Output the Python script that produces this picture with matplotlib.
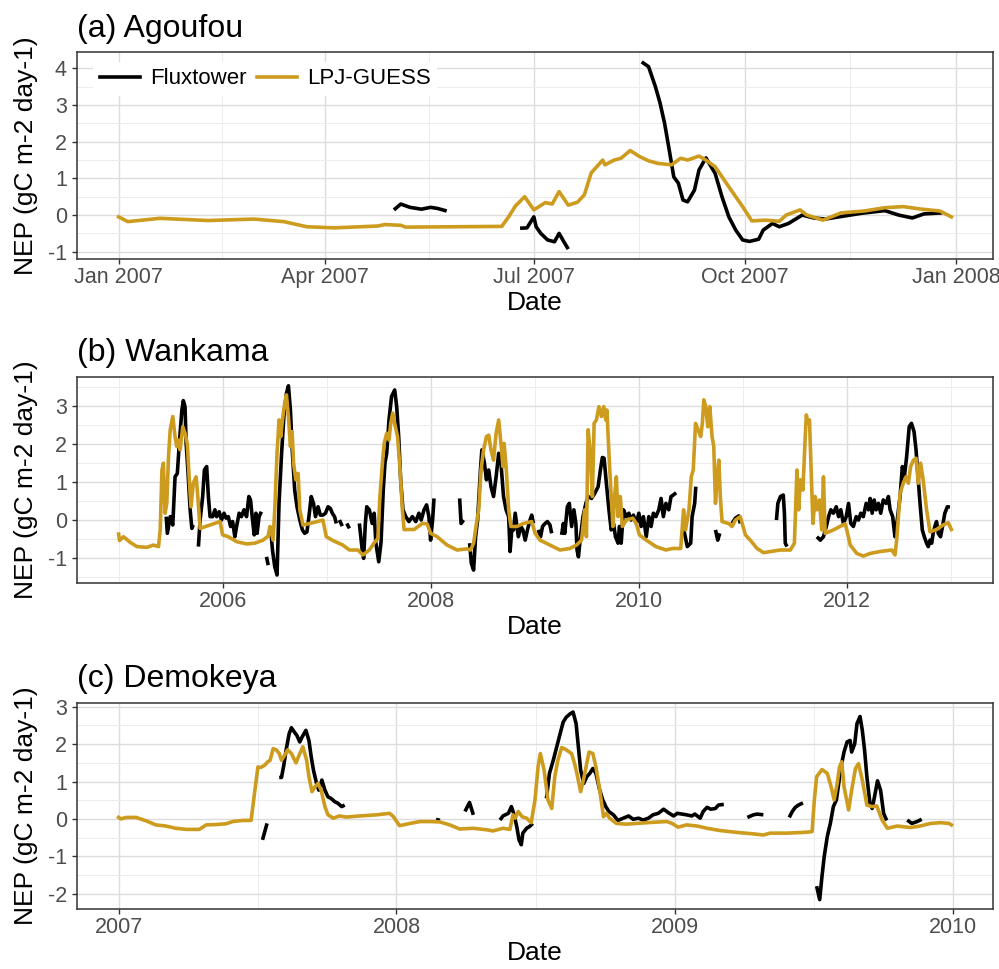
import numpy as np
import matplotlib
matplotlib.use('Agg')
import matplotlib.pyplot as plt
from matplotlib.lines import Line2D
from matplotlib.ticker import MultipleLocator, FixedLocator
import matplotlib.dates as mdates

plt.rcParams['font.family'] = ['Liberation Sans', 'DejaVu Sans']

flux_col = 'black'
lpj_col = '#CD9B1D'

# ---- (a) Agoufou, days since 2007-01-01 ----
a_start = '2007-01-01'
a_lpj_day = [0, 4, 18, 39, 59, 72, 82, 94, 113, 116, 123, 125, 167, 170, 173, 177, 181, 186, 189,
             192, 196, 200, 203, 206, 211, 212, 216, 219, 223, 227, 231, 235, 241, 245, 248, 253,
             256, 260, 266, 272, 276, 282, 288, 291, 297, 300, 307, 315, 325, 334, 342, 350, 358, 363]
a_lpj_nep = [-0.05, -0.18, -0.09, -0.15, -0.11, -0.18, -0.32, -0.35, -0.30, -0.26, -0.28, -0.33, -0.31,
             -0.05, 0.25, 0.50, 0.14, 0.34, 0.30, 0.64, 0.27, 0.35, 0.55, 1.15, 1.50, 1.37, 1.50, 1.55,
             1.76, 1.60, 1.48, 1.41, 1.37, 1.55, 1.50, 1.61, 1.50, 1.32, 0.77, 0.23, -0.16, -0.14,
             -0.17, 0.00, 0.14, 0.00, -0.14, 0.06, 0.11, 0.20, 0.23, 0.16, 0.11, -0.05]
a_flux = [
    ([120, 123, 127, 132, 136, 139, 143],
     [0.14, 0.30, 0.21, 0.16, 0.21, 0.18, 0.11]),
    ([175, 178, 181, 182, 184, 187, 190, 192, 194, 196],
     [-0.36, -0.35, -0.05, -0.32, -0.50, -0.68, -0.73, -0.50, -0.72, -0.93]),
    ([228, 231, 234, 236, 238, 240, 242, 244, 246, 248, 251, 253, 256, 260, 263, 266, 269, 272,
      275, 279, 281, 285, 288, 292, 298, 303, 308, 315, 324, 334, 340, 346, 351, 359],
     [4.18, 4.05, 3.50, 3.06, 2.50, 1.78, 1.04, 0.87, 0.41, 0.36, 0.68, 1.23, 1.56, 1.14, 0.50,
      -0.05, -0.41, -0.68, -0.72, -0.66, -0.41, -0.23, -0.32, -0.23, 0.00, -0.08, -0.11, -0.04,
      0.05, 0.12, 0.00, -0.08, 0.03, 0.06]),
]

# ---- (b) Wankama, days since 2005-01-01 ----
b_start = '2005-01-01'
b_lpj_day = [0, 3, 17, 41, 64, 99, 122, 140, 146, 152, 157, 163, 169, 175, 181, 190, 198, 204, 210,
             216, 225, 233, 241, 248, 254, 262, 272, 277, 286, 309, 332, 356, 365, 385, 414, 449,
             478, 507, 525, 531, 542, 548, 556, 563, 569, 575, 583, 589, 596, 603, 609, 614, 622,
             630, 636, 647, 682, 717, 729, 752, 787, 810, 840, 857, 880, 898, 910, 917, 926, 932,
             941, 949, 955, 962, 969, 979, 988, 996, 1002, 1037, 1066, 1083, 1095, 1118, 1153,
             1188, 1223, 1235, 1246, 1256, 1264, 1272, 1281, 1291, 1299, 1307, 1316, 1325, 1334,
             1342, 1349, 1353, 1360, 1369, 1377, 1398, 1421, 1450, 1462, 1479, 1514, 1549, 1584,
             1607, 1625, 1636, 1642, 1648, 1656, 1663, 1669, 1677, 1686, 1695, 1703, 1710, 1714,
             1721, 1729, 1735, 1741, 1747, 1753, 1761, 1768, 1782, 1805, 1817, 1828, 1852, 1886,
             1921, 1944, 1973, 1983, 1990, 2002, 2010, 2017, 2025, 2034, 2043, 2049, 2054, 2061,
             2068, 2075, 2083, 2089, 2095, 2101, 2107, 2112, 2118, 2141, 2153, 2165, 2182, 2200,
             2217, 2241, 2264, 2288, 2323, 2358, 2372, 2381, 2387, 2393, 2402, 2410, 2414, 2419,
             2425, 2430, 2437, 2445, 2451, 2460, 2468, 2474, 2480, 2509, 2550, 2556, 2568, 2591,
             2614, 2638, 2673, 2714, 2725, 2731, 2743, 2754, 2764, 2772, 2780, 2790, 2799, 2807,
             2815, 2824, 2836, 2848, 2871, 2894, 2912, 2923]
b_lpj_nep = [-0.38, -0.55, -0.45, -0.60, -0.71, -0.73, -0.67, -0.71, -0.27, 1.31, 1.49, 0.17, 0.43,
             1.66, 2.37, 2.72, 2.19, 1.93, 2.10, 1.84, 2.45, 2.28, 2.00, 1.05, 0.34, 0.96, 1.13,
             0.69, -0.23, -0.17, -0.11, -0.05, -0.40, -0.45, -0.58, -0.64, -0.62, -0.54, -0.43,
             -0.18, -0.54, 0.26, 1.75, 2.63, 2.19, 2.63, 3.07, 3.29, 2.72, 1.93, 2.32, 1.49, 1.05,
             1.22, 0.26, -0.14, -0.08, -0.01, -0.45, -0.55, -0.67, -0.80, -0.80, -0.93, -0.80,
             -0.60, -0.50, 0.60, 1.50, 2.01, 2.28, 2.10, 2.54, 2.81, 2.54, 2.19, 1.31, 0.26, -0.26,
             -0.26, -0.10, -0.11, -0.36, -0.45, -0.67, -0.80, -0.77, -0.80, -0.62, -0.10, 0.26,
             1.31, 1.84, 2.19, 2.23, 1.84, 1.57, 2.28, 2.63, 2.01, 1.40, 2.01, 1.40, 0.26, -0.18,
             -0.18, -0.10, -0.05, -0.36, -0.54, -0.67, -0.80, -0.76, -0.67, -0.54, 0.26, -0.45,
             2.37, 1.75, 0.61, 2.54, 2.63, 2.98, 2.72, 2.98, 2.63, 2.89, 1.75, 0.61, -0.18, 0.61,
             1.13, 0.08, 0.61, -0.18, -0.01, 0.04, -0.10, -0.40, -0.54, -0.71, -0.80, -0.76, -0.76,
             0.26, -0.27, 0.26, 1.13, 1.31, 2.54, 2.37, 2.19, 2.54, 3.16, 2.98, 2.45, 2.98, 2.19,
             1.93, 0.43, 1.13, 1.57, 0.61, -0.05, -0.10, -0.18, -0.01, 0.08, -0.40, -0.54, -0.76,
             -0.87, -0.84, -0.80, -0.80, -0.62, 1.31, 0.26, 1.05, 0.78, 2.19, 2.76, 2.54, 2.63,
             1.49, -0.10, 0.61, 0.26, 0.52, -0.27, 1.13, -0.36, -0.27, -0.11, -0.27, -0.67, -0.89,
             -0.96, -0.89, -0.84, -0.80, -0.93, -0.54, 0.69, 0.96, 1.13, 0.96, 1.40, 1.57, 1.62,
             0.96, 1.49, 1.05, 0.26, -0.32, -0.26, -0.14, -0.08, -0.26]
b_flux = [
    ([167, 171, 181, 190, 198, 206, 213, 222, 227, 233, 237, 243, 251, 257, 262],
     [0.08, -0.36, 0.08, -0.14, 1.13, 1.22, 2.01, 2.89, 3.14, 2.98, 2.01, 1.31, 0.26, -0.23, -0.14]),
    ([280, 286, 295, 301, 309, 315, 321, 330, 338, 344, 353, 361, 370, 377, 385, 393, 400, 408,
      414, 423, 431, 440, 449, 457, 463, 470, 476, 482, 486, 493, 501],
     [-0.71, -0.01, 0.61, 1.31, 1.40, 0.61, 0.08, 0.08, 0.26, 0.08, 0.21, -0.01, 0.17, 0.04, 0.08,
      -0.18, -0.05, -0.45, -0.18, 0.17, 0.08, 0.26, 0.08, 0.61, 0.52, -0.01, -0.40, 0.17, -0.36,
      0.08, 0.21]),
    ([519, 525], [-0.98, -1.20]),
    ([533, 540, 548, 556, 563, 572, 580, 589, 596, 603, 610, 618, 626, 636, 645, 653, 661, 668,
      676, 684, 691, 700, 708, 717, 726, 735, 743, 750, 758, 764],
     [-0.18, -0.80, -1.24, -1.46, 0.43, 1.75, 2.72, 3.33, 3.53, 2.89, 1.75, 0.78, 0.34, -0.01,
      -0.27, -0.36, -0.32, 0.08, 0.61, 0.43, 0.08, 0.34, 0.12, 0.12, 0.17, 0.34, 0.30, 0.17,
      0.08, -0.10]),
    ([775, 785], [-0.01, -0.17]),
    ([801, 810], [-0.10, -0.23]),
    ([845, 855, 860, 866, 871, 880, 890, 897, 903, 913, 921, 929, 935, 941, 949, 958, 969, 976,
      983, 990, 998, 1008, 1019, 1031, 1043, 1054, 1062, 1072, 1081, 1089, 1095, 1102, 1107],
     [-0.10, -0.80, -1.02, -0.10, 0.34, 0.26, -0.10, 0.17, -0.62, -1.11, -0.60, 0.80, 1.50, 1.75,
      2.63, 3.25, 3.42, 2.98, 2.19, 1.05, 0.26, 0.08, -0.05, 0.08, -0.05, 0.17, -0.01, 0.26,
      0.39, 0.08, -0.54, -0.01, 0.56]),
    ([1197, 1202, 1211], [0.56, -0.10, -0.01]),
    ([1232, 1238, 1246, 1253, 1260, 1270, 1275, 1284, 1291, 1299, 1307, 1316, 1325, 1334, 1342,
      1351, 1360, 1369, 1374, 1380, 1386, 1392, 1398, 1403, 1412, 1419, 1427, 1435, 1444, 1450,
      1456],
     [-0.62, -1.15, -1.33, -0.45, -0.01, 1.31, 1.84, 1.49, 1.05, 1.31, 0.87, 0.61, 1.13, 1.75,
      1.49, 0.61, 0.26, 0.08, -0.84, -0.27, -0.27, 0.17, -0.18, -0.45, -0.18, -0.27, -0.54,
      -0.27, -0.01, 0.12, -0.10]),
    ([1473, 1481, 1488, 1497, 1505, 1514, 1520],
     [-0.27, -0.45, -0.18, -0.10, -0.05, -0.14, -0.36]),
    ([1555, 1561, 1566, 1575, 1582, 1590, 1598, 1605, 1609, 1614, 1621, 1630, 1640, 1648, 1660,
      1671, 1683, 1691, 1698, 1704, 1712, 1721, 1729, 1737, 1744, 1753, 1758, 1764, 1772, 1782,
      1791, 1799, 1807, 1817, 1826, 1834, 1842, 1852, 1861, 1869, 1877, 1886, 1896, 1904, 1912,
      1921, 1931, 1939, 1947, 1957],
     [-0.40, -0.10, -0.36, 0.34, 0.43, -0.18, 0.26, -0.10, -0.80, -0.98, -0.45, 0.08, 0.43,
      0.61, 0.56, 0.69, 0.87, 1.31, 1.64, 1.62, 0.96, 0.26, -0.27, -0.10, -0.45, -0.62, -0.18,
      -0.62, 0.26, 0.08, 0.17, -0.01, 0.12, -0.10, 0.17, -0.18, 0.08, -0.45, 0.08, -0.18, 0.17,
      0.08, 0.26, 0.56, 0.08, 0.43, 0.26, 0.61, 0.65, 0.71]),
    ([1984, 1996, 2008, 2013, 2022, 2026], [-0.27, -0.71, -0.62, 0.08, 0.43, 0.87]),
    ([2095, 2103, 2110], [-0.27, -0.54, -0.36]),
    ([2153, 2165, 2177, 2182], [-0.10, 0.04, 0.10, -0.10]),
    ([2309, 2314, 2323, 2333, 2337, 2340, 2346], [-0.01, 0.43, 0.61, 0.65, 0.17, -0.62, -0.71]),
    ([2451, 2463, 2474, 2484, 2492, 2500, 2509, 2519, 2527, 2535, 2544, 2554, 2562, 2570, 2579,
      2589, 2597, 2605, 2614, 2624, 2632, 2638, 2645, 2652, 2659, 2667, 2675, 2684, 2694, 2702,
      2708, 2717, 2725, 2733, 2743, 2751, 2758, 2766, 2775, 2783, 2792, 2799, 2807, 2813, 2821,
      2828, 2836, 2842, 2848, 2854, 2859, 2865, 2871, 2877, 2885, 2892, 2900, 2909, 2918],
     [-0.45, -0.54, -0.45, -0.18, 0.08, 0.26, 0.17, 0.34, 0.08, 0.26, -0.10, 0.08, 0.43, -0.10,
      -0.18, 0.08, -0.01, 0.17, 0.08, 0.43, 0.26, 0.56, 0.17, 0.52, 0.26, 0.43, 0.17, 0.52,
      0.43, 0.61, 0.26, 0.08, -0.45, -0.01, 0.61, 1.40, 1.13, 1.66, 2.45, 2.54, 2.32, 1.84,
      1.05, 0.43, -0.27, -0.45, -0.62, -0.71, -0.54, -0.62, -0.36, -0.18, -0.05, -0.36, -0.45,
      -0.18, 0.17, 0.34, 0.33]),
]

# ---- (c) Demokeya, days since 2007-01-01 ----
c_start = '2007-01-01'
c_lpj_day = [0, 3, 10, 23, 36, 49, 62, 75, 89, 106, 115, 128, 141, 150, 163, 174, 179, 183, 187,
             192, 196, 199, 203, 207, 211, 214, 218, 222, 227, 233, 237, 242, 247, 250, 254, 258,
             262, 266, 271, 275, 282, 290, 299, 317, 339, 356, 361, 369, 383, 396, 409, 422, 435,
             448, 466, 483, 492, 505, 514, 518, 521, 525, 530, 536, 542, 547, 551, 554, 559, 564,
             569, 573, 577, 582, 588, 595, 599, 602, 607, 611, 615, 618, 623, 627, 632, 637, 641,
             645, 654, 667, 694, 720, 727, 735, 746, 760, 773, 790, 812, 834, 847, 856, 878, 900,
             911, 914, 917, 924, 931, 936, 940, 944, 947, 950, 953, 959, 963, 968, 972, 977, 983,
             990, 996, 1003, 1010, 1023, 1040, 1053, 1067, 1080, 1091, 1094]
c_lpj_nep = [0.04, 0.00, 0.04, 0.04, -0.05, -0.16, -0.19, -0.25, -0.28, -0.28, -0.16, -0.15, -0.13,
             -0.07, -0.04, -0.04, 0.77, 1.39, 1.38, 1.44, 1.53, 1.57, 1.88, 1.85, 1.75, 1.57, 1.70,
             1.85, 1.75, 1.50, 1.70, 1.93, 1.57, 1.13, 0.73, 0.86, 0.95, 0.77, 0.33, 0.11, 0.02,
             0.08, 0.05, 0.08, 0.11, 0.15, 0.06, -0.18, -0.12, -0.07, -0.07, -0.08, -0.16, -0.27,
             -0.25, -0.29, -0.32, -0.25, -0.28, 0.11, 0.02, 0.20, 0.06, 0.02, -0.10, 0.51, 1.39,
             1.75, 1.30, 0.51, 0.28, 1.13, 1.57, 1.91, 1.85, 1.75, 1.48, 1.22, 0.73, 1.08, 1.48,
             1.79, 1.75, 1.39, 0.77, 0.06, 0.15, 0.02, -0.12, -0.14, -0.10, -0.07, -0.12, -0.22,
             -0.16, -0.19, -0.25, -0.31, -0.36, -0.40, -0.43, -0.38, -0.38, -0.36, -0.34, 0.51,
             1.13, 1.32, 1.22, 0.86, 0.51, 0.95, 1.39, 1.53, 0.86, 0.24, 0.77, 1.35, 1.48, 1.04,
             0.37, 0.33, 0.35, -0.03, -0.25, -0.19, -0.23, -0.19, -0.12, -0.10, -0.12, -0.16]
c_flux = [
    ([189, 195], [-0.56, -0.12]),
    ([211, 214, 217, 220, 224, 227, 231, 234, 238, 241, 246, 250, 253, 256, 260, 263, 267, 271,
      275, 279, 284, 288, 293, 297],
     [1.11, 1.11, 1.44, 1.84, 2.28, 2.44, 2.32, 2.24, 2.06, 2.19, 2.37, 2.10, 1.66, 1.30, 0.95,
      0.77, 1.04, 0.77, 0.59, 0.55, 0.46, 0.42, 0.33, 0.37]),
    ([417, 422], [-0.01, -0.04]),
    ([455, 461, 466], [0.20, 0.44, 0.11]),
    ([501, 505, 512, 516, 519, 523, 526, 529, 531, 536, 540, 544],
     [-0.03, 0.08, 0.15, 0.33, 0.15, -0.20, -0.56, -0.69, -0.38, -0.25, -0.20, -0.12]),
    ([562, 566, 571, 576, 580, 584, 588, 593, 597, 601, 604, 607, 611, 615, 619, 623, 627, 632,
      636, 640, 644, 650, 656, 663, 670, 676, 683, 689, 696, 702, 709, 716, 722, 729, 734, 740,
      746, 753, 757, 764, 768, 773, 778, 784, 788, 795],
     [0.55, 1.22, 1.57, 1.97, 2.28, 2.59, 2.72, 2.81, 2.86, 2.55, 1.93, 1.30, 0.95, 1.13, 1.22,
      1.35, 1.22, 0.77, 0.51, 0.33, 0.20, 0.11, -0.04, 0.02, 0.08, -0.01, 0.02, -0.03, 0.02,
      0.11, 0.15, 0.26, 0.17, 0.08, 0.15, 0.13, 0.11, 0.08, 0.13, 0.02, 0.20, 0.31, 0.26, 0.28,
      0.37, 0.39]),
    ([826, 834, 839, 847], [0.04, 0.11, 0.13, 0.11]),
    ([881, 885, 889, 893, 899], [0.04, 0.20, 0.31, 0.37, 0.43]),
    ([917, 921, 924, 927, 931, 935, 939, 943, 946, 949, 953, 957, 961, 963, 967, 970, 974, 977,
      980, 983, 987, 990, 993, 997, 1001, 1005, 1009],
     [-1.80, -2.16, -1.54, -1.00, -0.47, -0.12, 0.33, 0.51, 0.95, 1.39, 1.79, 2.06, 2.10, 1.79,
      2.01, 2.55, 2.74, 2.37, 1.84, 1.13, 0.42, 0.28, 0.59, 1.02, 0.77, 0.15, -0.04]),
    ([1036, 1042, 1049, 1055], [-0.03, -0.12, -0.07, -0.01]),
]


def to_dates(start, days):
    return np.datetime64(start) + np.array(days, dtype='timedelta64[D]')


def join_segments(start, segs):
    xs, ys = [], []
    for d, v in segs:
        xs.extend(list(to_dates(start, d)) + [np.datetime64('NaT')])
        ys.extend(list(v) + [np.nan])
    return np.array(xs, dtype='datetime64[D]'), np.array(ys, dtype=float)


fig = plt.figure(figsize=(9.99, 9.69), dpi=100)
W, H = 999, 969

panels = [
    dict(title='(a) Agoufou', start=a_start, lpj=(a_lpj_day, a_lpj_nep), flux=a_flux,
         top=52, bottom=259, ylim=(-1.2, 4.45),
         majors=['2007-01-01', '2007-04-01', '2007-07-01', '2007-10-01', '2008-01-01'],
         fmt='%b %Y', legend=True),
    dict(title='(b) Wankama', start=b_start, lpj=(b_lpj_day, b_lpj_nep), flux=b_flux,
         top=376.7, bottom=583, ylim=(-1.67, 3.77),
         majors=['2006-01-01', '2008-01-01', '2010-01-01', '2012-01-01'],
         fmt='%Y', legend=False),
    dict(title='(c) Demokeya', start=c_start, lpj=(c_lpj_day, c_lpj_nep), flux=c_flux,
         top=702.7, bottom=909, ylim=(-2.41, 3.11),
         majors=['2007-01-01', '2008-01-01', '2009-01-01', '2010-01-01'],
         fmt='%Y', legend=False),
]

for p in panels:
    ax = fig.add_axes([77 / W, 1 - p['bottom'] / H, (993 - 77) / W, (p['bottom'] - p['top']) / H])

    fx, fy = join_segments(p['start'], p['flux'])
    ax.plot(fx, fy, color=flux_col, lw=2.6, solid_capstyle='butt', zorder=3)
    lx = to_dates(p['start'], p['lpj'][0])
    ax.plot(lx, p['lpj'][1], color=lpj_col, lw=2.6, zorder=4)

    ax.set_ylim(*p['ylim'])
    ax.margins(x=0.05)

    major = mdates.date2num(np.array(p['majors'], dtype='datetime64[D]'))
    step = np.diff(major)
    minor = np.concatenate([[major[0] - step[0] / 2], major[:-1] + step / 2, [major[-1] + step[-1] / 2]])
    ax.xaxis.set_major_locator(FixedLocator(major))
    ax.xaxis.set_minor_locator(FixedLocator(minor))
    ax.xaxis.set_major_formatter(mdates.DateFormatter(p['fmt']))
    ax.yaxis.set_major_locator(MultipleLocator(1))
    ax.yaxis.set_minor_locator(MultipleLocator(0.5))
    ax.yaxis.set_major_formatter(matplotlib.ticker.FuncFormatter(lambda v, pos: '%d' % v))

    ax.grid(which='major', color='#DCDCDC', lw=1.0, zorder=0)
    ax.grid(which='minor', color='#ECECEC', lw=0.7, zorder=0)
    ax.set_axisbelow(True)
    for s in ax.spines.values():
        s.set_color('#333333')
        s.set_linewidth(1.1)
    ax.tick_params(which='major', length=3.8, width=1.0, color='#333333',
                   labelsize=15.5, labelcolor='#4D4D4D')
    ax.tick_params(axis='x', which='major', pad=2.2)
    ax.tick_params(axis='y', which='major', pad=3.5)
    ax.tick_params(which='minor', length=0)

    ax.set_title(p['title'], loc='left', fontsize=23, pad=11)
    ax.set_xlabel('Date', fontsize=19)
    ax.set_ylabel('NEP (gC m-2 day-1)', fontsize=19)
    ax.xaxis.set_label_coords(0.5, -0.155)
    ax.yaxis.set_label_coords(-0.0426, 0.5)

    if p['legend']:
        handles = [Line2D([], [], color=flux_col, lw=2.6), Line2D([], [], color=lpj_col, lw=2.6)]
        leg = ax.legend(handles, ['Fluxtower', 'LPJ-GUESS'], loc='center left',
                        bbox_to_anchor=(0.018, 0.87), ncol=2, fontsize=16, frameon=True,
                        fancybox=False, facecolor='white', edgecolor='none', framealpha=1,
                        handlelength=1.8, handletextpad=0.45, columnspacing=0.45,
                        borderpad=0.3, borderaxespad=0)
        leg.set_zorder(5)

fig.savefig('out.png', dpi=100, facecolor='white')
